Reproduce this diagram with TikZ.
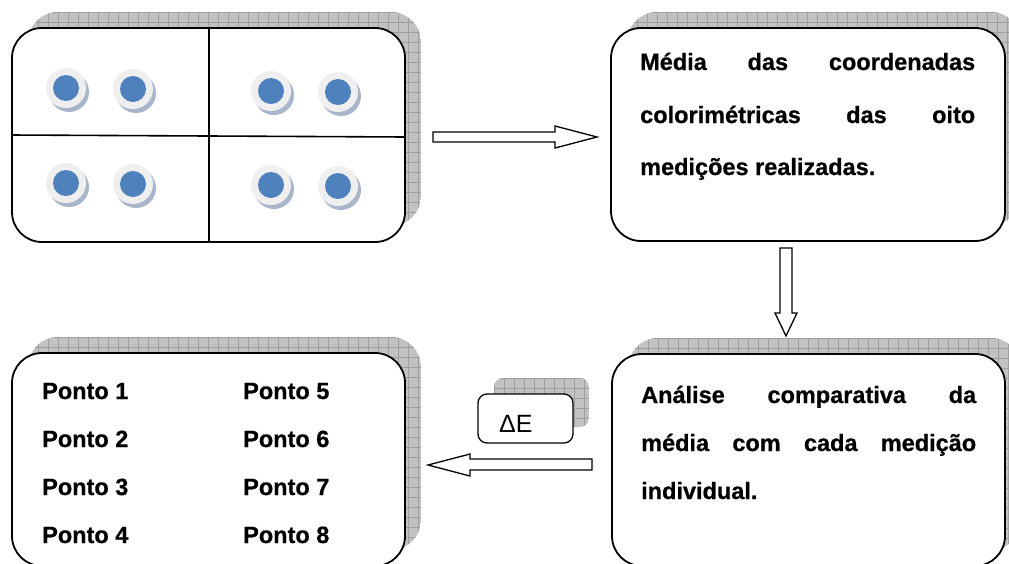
\documentclass[tikz,border=0pt]{standalone}
\usepackage{fontspec}
\setmainfont{Liberation Sans}
\newfontfamily\heavyfont{Liberation Sans}[BoldFeatures={FakeBold=0.7}]
\definecolor{dotblue}{HTML}{4F81BD}
\definecolor{dotring}{HTML}{EFEFEF}
\definecolor{dotbase}{HTML}{A9B5CB}
\tikzset{
  box/.style={draw=black, line width=1.8pt, fill=white, rounded corners=30pt, inner sep=0pt},
  smallbox/.style={draw=black, line width=1.3pt, fill=white, rounded corners=9pt, inner sep=0pt},
  txt/.style={font=\fontsize{23.5}{27}\heavyfont\bfseries, inner sep=0pt, anchor=base west},
  barrow/.style={draw=black, line width=1.3pt, fill=white, line join=miter},
  shfill/.style={fill=black!24},
  shgrid/.style={draw=black!38, line width=0.45pt},
  divider/.style={draw=black, line width=1.6pt},
}
\newcommand\shbox[5]{%
  \begin{scope}
    \clip[rounded corners=#5] (#1,#2) rectangle (#3,#4);
    \fill[shfill] (#1,#2) rectangle (#3,#4);
    \foreach \gx in {0,10,...,400} \draw[shgrid] ({#1+\gx},#2) -- ({#1+\gx},#4);
    \foreach \gy in {0,10,...,220} \draw[shgrid] (#1,{#2+\gy}) -- (#3,{#2+\gy});
  \end{scope}}
\begin{document}
\begin{tikzpicture}[x=1pt,y=-1pt]
\useasboundingbox (0,0) rectangle (1009,563);
\clip (0,0) rectangle (1009,563);
% shadows
\shbox{28}{12}{421}{226}{30pt}
\shbox{627}{12}{1021}{225}{30pt}
\shbox{28}{337}{421}{550}{30pt}
\shbox{628}{338}{1021}{550}{30pt}
\shbox{494}{378}{589}{427}{9pt}
% boxes
\node[box, minimum width=393pt, minimum height=214pt] (b1) at (208.5,135) {};
\node[box, minimum width=394pt, minimum height=213pt] (b2) at (808,134.5) {};
\node[box, minimum width=393pt, minimum height=213pt] (b3) at (208.5,459.5) {};
\node[box, minimum width=393pt, minimum height=212pt] (b4) at (808.5,460) {};
\node[smallbox, minimum width=95pt, minimum height=49pt] (de) at (525.5,418.5) {};
% dividers
\draw[divider] (209,28) -- (209,242);
\draw[divider] (b1.west) -- ([yshift=-2pt]b1.east);
% dots
\foreach \dx/\dy [count=\i] in {66/88,133/89,271/91,338/92,66/183,133/184,271/185,338/186}{
  \fill[dotbase] ({\dx+3},{\dy+4}) circle (20);
  \node[circle, fill=dotring, minimum size=40pt, inner sep=0pt] (ring\i) at (\dx,\dy) {};
  \node[circle, fill=dotblue, minimum size=26pt, inner sep=0pt] (dot\i) at (\dx,\dy) {};
}
% texts box 2
\node[txt] (m1) at (640,70) {\makebox[335pt][s]{Média das coordenadas}};
\node[txt] (m2) at (640,123) {\makebox[335pt][s]{colorimétricas das oito}};
\node[txt] (m3) at (640,175) {medições realizadas.};
% texts box 4
\node[txt] (a1) at (641,403) {\makebox[335pt][s]{Análise comparativa da}};
\node[txt] (a2) at (641,451) {\makebox[335pt][s]{média com cada medição}};
\node[txt] (a3) at (641,499) {individual.};
% texts box 3
\foreach \n/\yy in {1/399,2/447,3/495,4/543}{
  \node[txt] (p\n) at (42,\yy) {Ponto \n};
}
\foreach \n/\yy in {5/399,6/447,7/495,8/543}{
  \node[txt] (p\n) at (243,\yy) {Ponto \n};
}
% delta E
\node[font=\fontsize{25}{25}\selectfont, inner sep=0pt, anchor=base west] (delabel) at (499,432) {ΔE};
% block arrows
\draw[barrow] (433,132) -- (555,132) -- (555,126) -- (597,137) -- (555,148) -- (555,142) -- (433,142) -- cycle;
\draw[barrow] (780,248) -- (792,248) -- (792,313) -- (797,313) -- (786,336) -- (775,313) -- (780,313) -- cycle;
\draw[barrow] (592,459) -- (470,459) -- (470,454) -- (428,465) -- (470,476) -- (470,470) -- (592,470) -- cycle;
\end{tikzpicture}
\end{document}
